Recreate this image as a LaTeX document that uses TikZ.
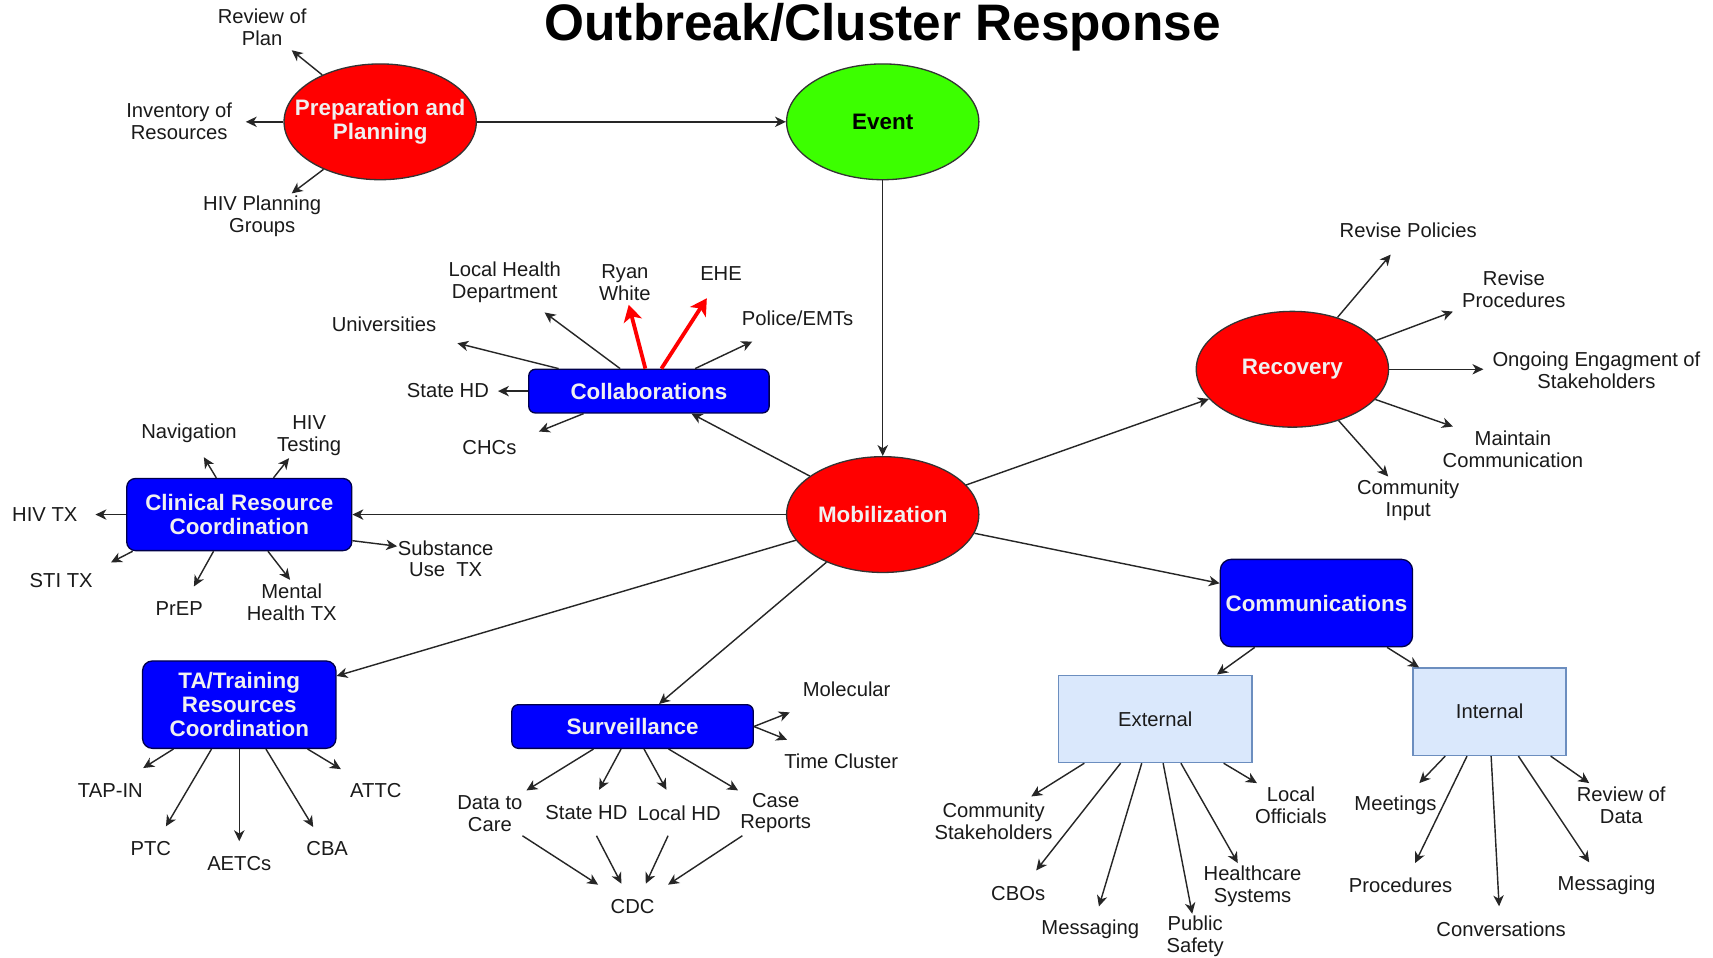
\documentclass[tikz,border=0pt]{standalone}
\usepackage{fontspec}
\setmainfont{Liberation Sans}
\usetikzlibrary{shapes.geometric,arrows.meta}
\definecolor{redf}{HTML}{FF0000}
\definecolor{greenf}{HTML}{3CFF00}
\definecolor{bluef}{HTML}{0000FF}
\definecolor{lbf}{HTML}{DAE8FC}
\definecolor{lbd}{HTML}{6C8EBF}
\definecolor{edgec}{HTML}{333333}
\definecolor{txt}{HTML}{1A1A1A}
\definecolor{wtxt}{HTML}{F0F0F0}
\begin{document}
\begin{tikzpicture}[x=1pt,y=-1pt,
  ell/.style={ellipse,draw=edgec,line width=1.2pt,minimum width=176pt,minimum height=106pt,inner sep=0pt,font=\fontsize{20.5}{22}\selectfont\bfseries,align=center},
  bbox/.style={rectangle,rounded corners=6pt,draw=black!70!blue,fill=bluef,line width=1.2pt,inner sep=0pt,text=wtxt,font=\fontsize{20.5}{22}\selectfont\bfseries,align=center},
  lbox/.style={rectangle,draw=lbd,fill=lbf,line width=1.2pt,inner sep=0pt,text=txt,font=\fontsize{18.5}{20}\selectfont},
  lbl/.style={inner sep=0pt,text=txt,font=\fontsize{18.5}{20}\selectfont,align=center},
  arr/.style={line width=1.3pt,draw=black!85,-{Stealth[length=10pt,width=9.5pt,inset=3pt]}},
  rarr/.style={line width=3.5pt,draw=red,-{Stealth[length=15pt,width=17pt,inset=4pt]}},
]
\useasboundingbox[fill=white] (0,0) rectangle (1568,876);

% title
\node[inner sep=0pt,text=black,font=\fontsize{47}{50}\selectfont\bfseries] (title) at (808,25) {Outbreak/Cluster Response};

% main nodes
\node[ell,fill=redf,text=wtxt,inner xsep=-18pt] (prep) at (348,111.5) {Preparation and\\Planning};
\node[ell,fill=greenf,text=black] (event) at (808,111.5) {Event};
\node[ell,fill=redf,text=wtxt] (mob) at (808,471) {Mobilization};
\node[ell,fill=redf,text=wtxt] (rec) at (1183,338) {Recovery};
\node[bbox,minimum width=220pt,minimum height=40pt] (collab) at (594,358) {Collaborations};
\node[bbox,minimum width=206pt,minimum height=66pt,rounded corners=8pt] (clin) at (219,471) {Clinical Resource\\Coordination};
\node[bbox,minimum width=177pt,minimum height=80pt,rounded corners=9pt] (ta) at (219,645) {TA/Training\\Resources\\Coordination};
\node[bbox,minimum width=221pt,minimum height=40pt] (surv) at (579,665) {Surveillance};
\node[bbox,minimum width=176pt,minimum height=80pt,rounded corners=10pt] (comm) at (1205,552) {Communications};
\node[lbox,minimum width=177pt,minimum height=80pt] (ext) at (1057.5,658) {External};
\node[lbox,minimum width=140pt,minimum height=80pt] (int) at (1363.5,651.5) {Internal};

% main connectors
\draw[arr] (prep) -- (event);
\draw[arr] (event) -- (mob);
\draw[arr] (mob) -- (collab);
\draw[arr] (mob) -- (clin);
\draw[arr] (mob) -- (ta);
\draw[arr] (mob) -- (surv);
\draw[arr] (mob) -- (comm);
\draw[arr] (mob) -- (rec);
\draw[arr] (comm) -- (ext);
\draw[arr] (comm) -- (int);

% ---------- Preparation leaves
\node[lbl] (lRev) at (240,25) {Review of\\Plan};
\node[lbl] (lInv) at (164,111) {Inventory of\\Resources};
\node[lbl] (lHPG) at (240,198) {HIV Planning\\Groups};
\coordinate (tRev) at (267,46);
\coordinate (tInv) at (225,111.5);
\coordinate (tHPG) at (267,177);
\draw[arr] (prep.141) -- (tRev);
\draw[arr] (prep.180) -- (tInv);
\draw[arr] (prep.220) -- (tHPG);

% ---------- Collaborations leaves
\node[lbl] (lUni) at (351.5,297) {Universities};
\node[lbl] (lLHD) at (462,258.5) {Local Health\\Department};
\node[lbl] (lRW) at (572,258.5) {Ryan\\White};
\node[lbl] (lEHE) at (660,250) {EHE};
\node[lbl] (lPol) at (730,291) {Police/EMTs};
\node[lbl] (lSHD) at (410,357.5) {State HD};
\node[lbl] (lCHC) at (448,410) {CHCs};
\coordinate (tUni) at (418.7,314.2);
\coordinate (tLHD) at (498.5,286);
\coordinate (tRW) at (575.5,279);
\coordinate (tEHE) at (647,273);
\coordinate (tPol) at (688.6,312.6);
\coordinate (tSHD) at (455.8,358);
\coordinate (tCHC) at (493.3,395);
\draw[arr] (collab.166.2) -- (tUni);
\draw[arr] (collab.142.4) -- (tLHD);
\draw[rarr] (collab.99.6) -- (tRW);
\draw[rarr] (collab.61.2) -- (tEHE);
\draw[arr] (collab.26) -- (tPol);
\draw[arr] (collab.180) -- (tSHD);
\draw[arr] (collab.199.9) -- (tCHC);

% ---------- Clinical leaves
\node[lbl] (lNav) at (173,397) {Navigation};
\node[lbl] (lHT) at (283,399) {HIV\\Testing};
\node[lbl] (lHTX) at (41,471) {HIV TX};
\node[lbl] (lSTI) at (56,531) {STI TX};
\node[lbl] (lPrEP) at (164,557) {PrEP};
\node[lbl] (lMH) at (267,551) {Mental\\Health TX};
\node[lbl] (lSU) at (408,511.5) {Substance\\Use\ \ TX};
\coordinate (tNav) at (186.6,418.5);
\coordinate (tHT) at (264.6,419.4);
\coordinate (tHTX) at (87.4,471);
\coordinate (tSTI) at (101.6,514.8);
\coordinate (tPrEP) at (177.5,536.8);
\coordinate (tMH) at (265.5,530.7);
\coordinate (tSU) at (363.5,500);
\draw[arr] (clin.122.7) -- (tNav);
\draw[arr] (clin.47.9) -- (tHT);
\draw[arr] (clin.180) -- (tHTX);
\draw[arr] (clin.199.8) -- (tSTI);
\draw[arr] (clin.235.8) -- (tPrEP);
\draw[arr] (clin.308.2) -- (tMH);
\draw[arr] (clin.347.7) -- (tSU);

% ---------- TA leaves
\node[lbl] (lTAP) at (101,723.5) {TAP-IN};
\node[lbl] (lPTC) at (138,777) {PTC};
\node[lbl] (lAET) at (219,790) {AETCs};
\node[lbl] (lCBA) at (299.5,777) {CBA};
\node[lbl] (lATT) at (344,723.5) {ATTC};
\coordinate (tTAP) at (131.1,703);
\coordinate (tPTC) at (151.9,756.4);
\coordinate (tAET) at (219,770);
\coordinate (tCBA) at (286.7,757);
\coordinate (tATT) at (312,704);
\draw[arr] (ta.214.2) -- (tTAP);
\draw[arr] (ta.238.6) -- (tPTC);
\draw[arr] (ta.270) -- (tAET);
\draw[arr] (ta.301.4) -- (tCBA);
\draw[arr] (ta.327.6) -- (tATT);

% ---------- Surveillance leaves
\node[lbl] (lMol) at (775,631) {Molecular};
\node[lbl] (lTC) at (770,697) {Time Cluster};
\node[lbl] (lD2C) at (448.4,744.5) {Data to\\Care};
\node[lbl] (lSSHD) at (536.8,744.2) {State HD};
\node[lbl] (lSLHD) at (621.6,744.2) {Local HD};
\node[lbl] (lCase) at (710,744.2) {Case\\Reports};
\node[lbl] (lCDC) at (579,830) {CDC};
\coordinate (tMol) at (722.9,652.1);
\coordinate (tTC) at (720.4,677.1);
\coordinate (tD2C) at (481.9,723.5);
\coordinate (tSSHD) at (548.4,722.9);
\coordinate (tSLHD) at (610,722.9);
\coordinate (tCase) at (675.6,723.5);
\draw[arr] (surv.east) -- (tMol);
\draw[arr] (surv.east) -- (tTC);
\draw[arr] (surv.210.7) -- (tD2C);
\draw[arr] (surv.243) -- (tSSHD);
\draw[arr] (surv.297.3) -- (tSLHD);
\draw[arr] (surv.328.4) -- (tCase);
\coordinate (sC1) at (478.2,765);
\coordinate (sC2) at (546,765);
\coordinate (sC3) at (611.5,765);
\coordinate (sC4) at (679.5,765);
\coordinate (tC1) at (547.5,809.8);
\coordinate (tC2) at (568.8,808.9);
\coordinate (tC3) at (591.1,808.9);
\coordinate (tC4) at (611.5,809.8);
\draw[arr] (sC1) -- (tC1);
\draw[arr] (sC2) -- (tC2);
\draw[arr] (sC3) -- (tC3);
\draw[arr] (sC4) -- (tC4);

% ---------- Recovery leaves
\node[lbl] (lRP) at (1289,210.5) {Revise Policies};
\node[lbl] (lRPr) at (1385.7,264.6) {Revise\\Procedures};
\node[lbl] (lOng) at (1461.3,338.8) {Ongoing Engagment of\\Stakeholders};
\node[lbl] (lMC) at (1384.8,411) {Maintain\\Communication};
\node[lbl] (lCI) at (1289,458) {Community\\Input};
\coordinate (tRP) at (1273,233);
\coordinate (tRPr) at (1329.9,285.2);
\coordinate (tOng) at (1357.8,338);
\coordinate (tMC) at (1329.9,390.4);
\coordinate (tCI) at (1270.7,436.2);
\draw[arr] (rec.49.6) -- (tRP);
\draw[arr] (rec.19.9) -- (tRPr);
\draw[arr] (rec.0) -- (tOng);
\draw[arr] (rec.-20.6) -- (tMC);
\draw[arr] (rec.-48.2) -- (tCI);

% ---------- External leaves
\node[lbl] (lCS) at (909.5,751.4) {Community\\Stakeholders};
\node[lbl] (lCBO) at (932,817.5) {CBOs};
\node[lbl] (lEMsg) at (998,851) {Messaging};
\node[lbl] (lPS) at (1094,857) {Public\\Safety};
\node[lbl] (lHS) at (1146.5,811) {Healthcare\\Systems};
\node[lbl] (lLO) at (1181.7,737.4) {Local\\Officials};
\coordinate (tCS) at (944,729);
\coordinate (tCBO) at (948.5,796.7);
\coordinate (tEMsg) at (1005.9,829.7);
\coordinate (tPS) at (1091.3,836.4);
\coordinate (tHS) at (1133,790);
\coordinate (tLO) at (1150.5,716.8);
\draw[arr] (ext.212.6) -- (tCS);
\draw[arr] (ext.232) -- (tCBO);
\draw[arr] (ext.253.3) -- (tEMsg);
\draw[arr] (ext.280.6) -- (tPS);
\draw[arr] (ext.300.6) -- (tHS);
\draw[arr] (ext.327.7) -- (tLO);

% ---------- Internal leaves
\node[lbl] (lMeet) at (1277.3,737.5) {Meetings};
\node[lbl] (lProc) at (1282,810) {Procedures};
\node[lbl] (lConv) at (1374,850.3) {Conversations};
\node[lbl] (lIMsg) at (1470.6,810.7) {Messaging};
\node[lbl] (lRD) at (1484,737.4) {Review of\\Data};
\coordinate (tMeet) at (1299.2,716.8);
\coordinate (tProc) at (1295.3,790);
\coordinate (tConv) at (1372.2,829.6);
\coordinate (tIMsg) at (1454.7,789.3);
\coordinate (tRD) at (1454.7,716.8);
\draw[arr] (int.225.7) -- (tMeet);
\draw[arr] (int.243) -- (tProc);
\draw[arr] (int.272) -- (tConv);
\draw[arr] (int.303.6) -- (tIMsg);
\draw[arr] (int.324.5) -- (tRD);
\end{tikzpicture}
\end{document}
